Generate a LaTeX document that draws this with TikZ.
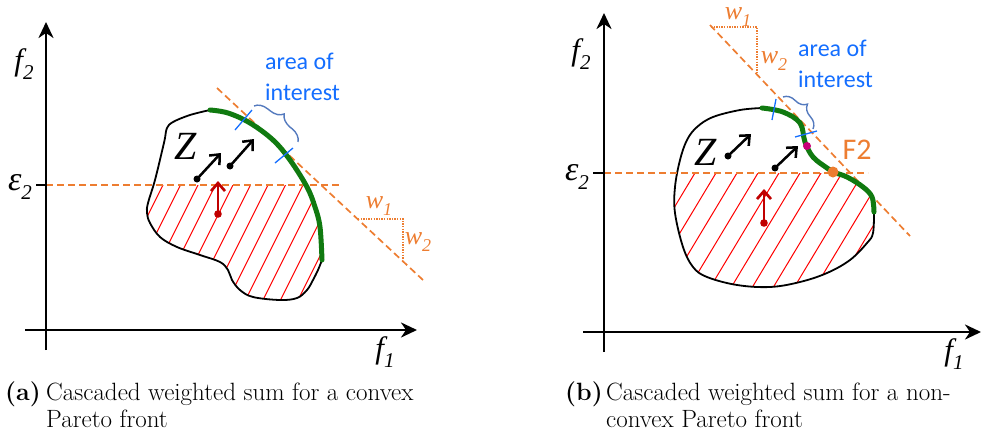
\documentclass[tikz,border=0pt]{standalone}
\usepackage{fontspec}
\newfontfamily\sansf{Carlito}
\newfontfamily\serifi{Liberation Serif}
\usetikzlibrary{arrows.meta,decorations.pathreplacing}
\definecolor{orng}{RGB}{237,125,49}
\definecolor{txtblue}{RGB}{20,110,255}
\definecolor{brc}{RGB}{84,122,190}
\definecolor{tickblue}{RGB}{20,110,255}
\definecolor{grn}{RGB}{16,122,16}
\definecolor{darkred}{RGB}{192,0,0}
\definecolor{mag}{RGB}{200,0,120}
\newcommand{\ilab}[4]{{\fontsize{#1}{#1}\selectfont\serifi\itshape #3\raisebox{-0.28em}{\fontsize{#2}{#2}\selectfont #4}}}
\tikzset{
  axis/.style={line width=2.6pt,-{Stealth[length=16pt,width=15pt,inset=5pt]}},
  axtick/.style={line width=2.6pt},
  odash/.style={orng,line width=1.7pt,dash pattern=on 7pt off 4pt},
  odot/.style={orng,line width=1.3pt,dash pattern=on 1.3pt off 1.3pt},
  outline/.style={black,line width=1.8pt},
  front/.style={grn,line width=5pt,line cap=round},
  hatch/.style={red,line width=1pt},
  barrow/.style={black,line width=2.5pt,-{Straight Barb[length=8pt,width=14pt]}},
  rarrow/.style={darkred,line width=2.7pt,-{Straight Barb[length=8pt,width=14pt]}},
  bluetick/.style={tickblue,line width=1.3pt},
  bracestyle/.style={brc,line width=1.4pt,decorate,decoration={brace,amplitude=13pt}},
  aoi/.style={txtblue,font=\fontsize{24}{31}\selectfont\sansf,align=left,inner sep=0pt},
  lab/.style={inner sep=0pt},
  wlab/.style={inner sep=0pt,orng,anchor=base,text height=13pt,text depth=6pt},
  captxt/.style={inner sep=0pt,font=\fontsize{25}{27}\selectfont},
}
\begin{document}
\begin{tikzpicture}[x=1pt,y=-1pt]
\useasboundingbox (0,0) rectangle (983,437);
% ================= LEFT PANEL =================
\coordinate (LyB) at (46,350); \coordinate (LyT) at (46,22);
\coordinate (LxL) at (25,330); \coordinate (LxR) at (417,330);
\coordinate (LeT) at (36,185); \coordinate (LeA) at (46,185); \coordinate (LeE) at (341,185);
% hatch
\path[save path=\blobL] plot[smooth,tension=0.6] coordinates {(210,110) (228,113) (250,123) (273,140) (290,160) (307,187) (315,207) (320,227) (322,260)}
  -- plot[smooth,tension=0.6] coordinates {(322,260) (318,270) (313,280) (307,290) (297,298) (280,300) (253,297) (240,290) (232,280) (228,270) (220,262) (200,255) (177,247) (160,237) (150,223) (147,213) (148,203) (155,180) (163,147) (165,138) (167,128) (173,122) (190,115) (210,110)} -- cycle;
\begin{scope}
  \clip (0,185) rectangle (983,437);
  \clip[use path=\blobL];
  \foreach \k in {-3,...,11} {
    \draw[hatch] ({163+17.5*\k+15},155) -- ({163+17.5*\k-80},345);
  }
\end{scope}
\draw[outline] plot[smooth,tension=0.6] coordinates {(322,260) (318,270) (313,280) (307,290) (297,298) (280,300) (253,297) (240,290) (232,280) (228,270) (220,262) (200,255) (177,247) (160,237) (150,223) (147,213) (148,203) (155,180) (163,147) (165,138) (167,128) (173,122) (190,115) (210,110)};
\draw[odash] (LeA) -- (LeE);
\coordinate (LtA) at (217,88); \coordinate (LtB) at (423,280);
\draw[odash] (LtA) -- (LtB);
\draw[front] plot[smooth,tension=0.6] coordinates {(210,110) (228,113) (250,123) (273,140) (290,160) (307,187) (315,207) (320,227) (322,260)};
\coordinate (Lw1) at (358,219); \coordinate (Lwc) at (403,219); \coordinate (Lw2) at (403,259);
\draw[odot] (Lw1) -- (Lwc) -- (Lw2);
% ticks and brace
\coordinate (Lk1a) at (235,130); \coordinate (Lk1b) at (252,110);
\coordinate (Lk2a) at (275,163); \coordinate (Lk2b) at (293,148);
\draw[bluetick] (Lk1a) -- (Lk1b);
\draw[bluetick] (Lk2a) -- (Lk2b);
\coordinate (LbA) at (254,106); \coordinate (LbB) at (298,142);
\draw[bracestyle] (LbA) -- (LbB);
% arrows
\coordinate (La1s) at (197,179); \coordinate (La1e) at (221,153);
\coordinate (La2s) at (230,166); \coordinate (La2e) at (254,139);
\coordinate (Lrs) at (218,214); \coordinate (Lre) at (218,181);
\fill (La1s) circle (3.5pt); \draw[barrow] (La1s) -- (La1e);
\fill (La2s) circle (3.5pt); \draw[barrow] (La2s) -- (La2e);
\fill[darkred] (Lrs) circle (3.8pt); \draw[rarrow] (Lrs) -- (Lre);
% axes
\draw[axis] (LyB) -- (LyT);
\draw[axis] (LxL) -- (LxR);
\draw[axtick] (LeT) -- (LeA);
% labels
\node[lab] (Lf2) at (24,64) {\ilab{31}{21}{f}{2}};
\node[lab] (Lf1) at (385,352) {\ilab{31}{21}{f}{1}};
\node[lab] (Leps) at (20,187) {\ilab{34}{21}{ε}{2}};
\node[lab] (LZ) at (186,146) {{\fontsize{40}{40}\selectfont\serifi\itshape Z}};
\node[wlab] (Lw1l) at (379,208) {\ilab{26}{18}{w}{1}};
\node[wlab] (Lw2l) at (418,244) {\ilab{26}{18}{w}{2}};
\node[aoi,anchor=west] (Laoi) at (265,77) {area of\\interest};
% ================= RIGHT PANEL =================
\coordinate (RyB) at (604,352); \coordinate (RyT) at (604,13);
\coordinate (RxL) at (583,332); \coordinate (RxR) at (981,332);
\coordinate (ReT) at (593,173); \coordinate (ReA) at (604,173); \coordinate (ReE) at (868,173);
\path[save path=\blobR] plot[smooth,tension=0.6] coordinates {(762,108) (783,112) (800,123) (805,142) (813,157) (827,168) (833,172) (847,177) (863,187) (872,197) (874,212)}
  -- plot[smooth,tension=0.6] coordinates {(874,212) (873,233) (867,243) (850,260) (827,273) (800,282) (770,287) (737,285) (707,277) (693,267) (683,247) (675,213) (675,187) (680,160) (687,140) (697,127) (713,117) (740,110) (762,108)} -- cycle;
\begin{scope}
  \clip (0,173) rectangle (983,437);
  \clip[use path=\blobR];
  \foreach \k in {-3,...,11} {
    \draw[hatch] ({695+21*\k+12},153) -- ({695+21*\k-80},306);
  }
\end{scope}
\draw[outline] plot[smooth,tension=0.6] coordinates {(874,212) (873,233) (867,243) (850,260) (827,273) (800,282) (770,287) (737,285) (707,277) (693,267) (683,247) (675,213) (675,187) (680,160) (687,140) (697,127) (713,117) (740,110) (762,108)};
\draw[odash] (ReA) -- (ReE);
\coordinate (RtA) at (710,25); \coordinate (RtB) at (910,236);
\draw[odash] (RtA) -- (RtB);
\draw[front] plot[smooth,tension=0.6] coordinates {(762,108) (783,112) (800,123) (805,142) (813,157) (827,168) (833,172) (847,177) (863,187) (872,197) (874,212)};
\coordinate (Rw1) at (711,27); \coordinate (Rwc) at (757,27); \coordinate (Rw2) at (757,73);
\draw[odot] (Rw1) -- (Rwc) -- (Rw2);
\coordinate (Rk1a) at (772,120); \coordinate (Rk1b) at (776,99);
\coordinate (Rk2a) at (795,137); \coordinate (Rk2b) at (817,131);
\draw[bluetick] (Rk1a) -- (Rk1b);
\draw[bluetick] (Rk2a) -- (Rk2b);
\coordinate (RbA) at (783,97); \coordinate (RbB) at (813,129);
\draw[bracestyle] (RbA) -- (RbB);
\coordinate (Ra1s) at (728,156); \coordinate (Ra1e) at (751,134);
\coordinate (Ra2s) at (775,168); \coordinate (Ra2e) at (798,146);
\coordinate (Rrs) at (764,223); \coordinate (Rre) at (764,189);
\fill (Ra1s) circle (3.5pt); \draw[barrow] (Ra1s) -- (Ra1e);
\fill (Ra2s) circle (3.5pt); \draw[barrow] (Ra2s) -- (Ra2e);
\fill[darkred] (Rrs) circle (3.8pt); \draw[rarrow] (Rrs) -- (Rre);
\coordinate (RF2) at (833,172); \coordinate (Rmag) at (807,146);
\fill[mag] (Rmag) circle (4pt);
\fill[orng] (RF2) circle (5.5pt);
\draw[axis] (RyB) -- (RyT);
\draw[axis] (RxL) -- (RxR);
\draw[axtick] (ReT) -- (ReA);
\node[lab] (Rf2) at (581,54) {\ilab{31}{21}{f}{2}};
\node[lab] (Rf1) at (954,354) {\ilab{31}{21}{f}{1}};
\node[lab] (Reps) at (577,177) {\ilab{34}{21}{ε}{2}};
\node[lab] (RZ) at (706,152) {{\fontsize{40}{40}\selectfont\serifi\itshape Z}};
\node[wlab] (Rw1l) at (738,19) {\ilab{26}{18}{w}{1}};
\node[wlab] (Rw2l) at (774,63) {\ilab{26}{18}{w}{2}};
\node[aoi,anchor=west] (Raoi) at (798,64) {area of\\interest};
\node[lab,orng,font=\fontsize{30}{30}\selectfont\sansf] (RF2l) at (857,150) {F2};
% ================= CAPTIONS =================
\node[captxt,anchor=base west] (capa) at (5,400) {\textbf{(a)}};
\node[captxt,anchor=base west] (capa1) at (46,400) {Cascaded weighted sum for a convex};
\node[captxt,anchor=base west] (capa2) at (46,427) {Pareto front};
\node[captxt,anchor=base west] (capb) at (565,400) {\textbf{(b)}};
\node[captxt,anchor=base west] (capb1) at (606,400) {Cascaded weighted sum for a non-};
\node[captxt,anchor=base west] (capb2) at (606,427) {convex Pareto front};
\end{tikzpicture}
\end{document}
